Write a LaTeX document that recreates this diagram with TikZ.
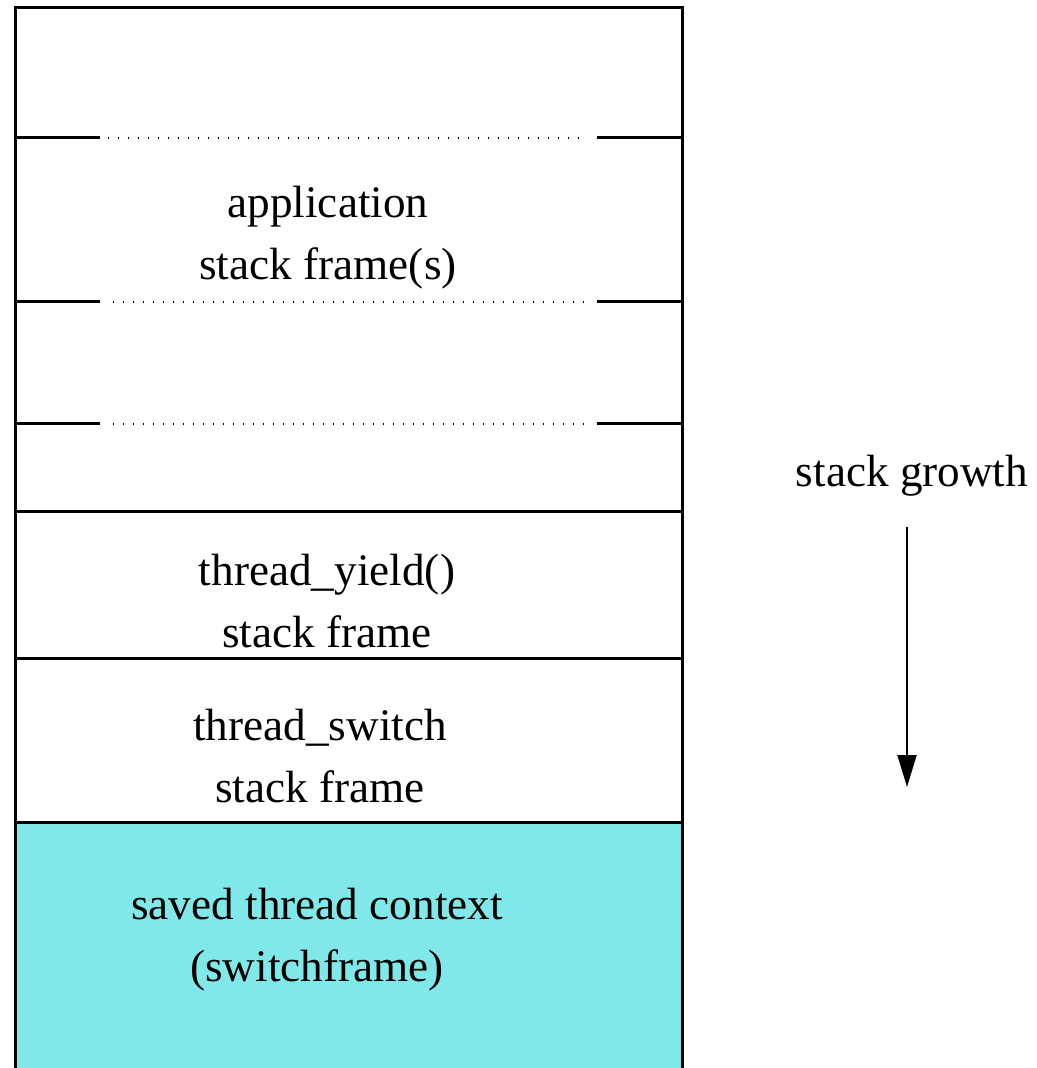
\documentclass[tikz,border=0pt]{standalone}
\usepackage{fontspec}
\setmainfont{Liberation Serif}
\usetikzlibrary{arrows.meta}
\definecolor{kontext}{RGB}{128,232,232}
\begin{document}
\begin{tikzpicture}[x=0.5pt,y=-0.5pt,
  txt/.style={align=center,font=\fontsize{22.6}{31}\selectfont},
  rahmen/.style={line width=1.5pt},
  punkte/.style={line width=0.7pt,dash pattern=on 0.7pt off 4.3pt}]
  \useasboundingbox (0,0) rectangle (1036,1068);

  % Gespeicherter Kontext
  \fill[kontext] (15,822) rectangle (682,1068);

  % Rahmen
  \draw[rahmen] (15,1068) -- (15,8) -- (682,8) -- (682,1068);

  % Grenzen mit Punkten
  \foreach \y/\a/\b in {138/108/585, 302/113/590, 424/113/590} {
    \draw[rahmen] (15,\y) -- (100,\y);
    \draw[punkte] (\a,\y) -- (\b,\y);
    \draw[rahmen] (597,\y) -- (682,\y);
  }

  % Feste Grenzen
  \foreach \y in {511,658,822}
    \draw[rahmen] (15,\y) -- (682,\y);

  % Beschriftungen
  \node[txt] (app) at (328,238) {application\\stack frame(s)};
  \node[txt] (yield) at (327,601) {thread\_yield()\\stack frame};
  \node[txt] (switch) at (320,756) {thread\_switch\\stack frame};
  \node[txt] (saved) at (317,940) {saved thread context\\(switchframe)};

  % Wachstum
  \node[txt] (growth) at (912,476) {stack growth};
  \coordinate (pfeilanfang) at (907,527);
  \coordinate (pfeilende) at (907,787);
  \draw[-{Triangle[length=16pt,width=9.5pt]},line width=1pt] (pfeilanfang) -- (pfeilende);
\end{tikzpicture}
\end{document}
